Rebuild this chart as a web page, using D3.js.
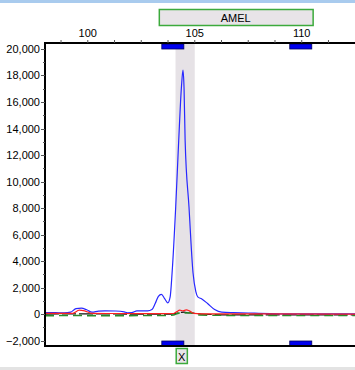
<!DOCTYPE html>
<html>
<head>
<meta charset="utf-8">
<script src="https://cdn.jsdelivr.net/npm/d3@7"></script>
<style>
  body { margin: 0; background: #fff; }
  svg { display: block; font-family: "Liberation Sans", Arial, sans-serif; }
</style>
</head>
<body>
<svg id="chart" width="355" height="370"></svg>
<script>
// tick labels
const xTicks = [100, 105, 110];
const yTicks = [-2000, 0, 2000, 4000, 6000, 8000, 10000, 12000, 14000, 16000, 18000, 20000];

// marker / bins (bp)
const markerName = "AMEL";
const markerRange = [103.32, 110.51];
const binRanges = [[103.46, 104.49], [109.44, 110.47]];
const alleleName = "X";
const alleleRange = [104.11, 104.63];
const alleleBand = [104.1, 105.0];

// traces (bp -> RFU)
const blueBp  = [98.0, 98.5, 98.9, 99.2, 99.45, 99.7, 99.95, 100.2, 100.5, 100.8, 101.3, 101.7, 101.85, 102.05, 102.3, 102.8, 103.0, 103.15, 103.3, 103.44, 103.6, 103.74, 103.85, 103.94, 104.11, 104.25, 104.38, 104.45, 104.5, 104.55, 104.73, 104.92, 105.05, 105.14, 105.33, 105.6, 105.93, 106.26, 106.8, 107.5, 108.0, 109.0, 112.5];
const blueVal = [120, 110, 100, 150, 420, 450, 330, 150, 230, 250, 240, 180, 100, 110, 250, 250, 350, 800, 1350, 1500, 1150, 850, 1300, 3100, 8100, 13100, 17200, 18400, 17000, 13100, 8100, 3100, 1700, 1300, 1150, 800, 350, 150, 110, 90, 60, 30, 20];

const redBp   = [98.0, 99.3, 99.6, 99.85, 100.2, 101.0, 103.5, 104.0, 104.15, 104.3, 104.45, 104.6, 104.75, 104.95, 105.3, 108.0, 112.5];
const redVal  = [60, 60, 300, 250, 60, 50, 40, 50, 180, 300, 250, 320, 250, 60, 30, 20, 0];

const greenBp  = [98.0, 99.5, 100.0, 103.5, 104.0, 104.2, 104.4, 104.6, 104.8, 105.2, 108.0, 112.5];
const greenVal = [-110, -100, -110, -100, -60, 60, 120, 90, 120, -60, -100, -90];

const blackBp  = [98.0, 100.0, 103.8, 104.1, 104.3, 104.5, 104.7, 104.9, 105.3, 107.0, 112.5];
const blackVal = [10, 20, 0, 60, 120, 160, 100, 80, 10, -60, -60];

const svg = d3.select("#chart");
const W = 355, H = 370;
const pLeft = 45, pRight = 355, pTop = 43, pBottom = 346;

const x = d3.scaleLinear().domain([98.0, 112.49]).range([pLeft, pRight]);
const y = d3.scaleLinear().domain([-2400, 20450]).range([pBottom, pTop]);

// window strips
svg.append("rect").attr("x", 0).attr("y", 0).attr("width", W).attr("height", 3).attr("fill", "#a9cbee");
svg.append("rect").attr("x", 0).attr("y", 367).attr("width", W).attr("height", 3).attr("fill", "#e3e3e3");

// plot background + allele band
svg.append("rect").attr("x", pLeft).attr("y", pTop).attr("width", pRight - pLeft).attr("height", pBottom - pTop).attr("fill", "#fff");
svg.append("rect")
  .attr("x", x(alleleBand[0])).attr("y", pTop)
  .attr("width", x(alleleBand[1]) - x(alleleBand[0])).attr("height", pBottom - pTop)
  .attr("fill", "#e6e2e6");

// marker box
svg.append("rect")
  .attr("x", x(markerRange[0]) + 0.5).attr("y", 9.5)
  .attr("width", x(markerRange[1]) - x(markerRange[0])).attr("height", 16)
  .attr("fill", "#e8e4e8").attr("stroke", "#3caa3c").attr("stroke-width", 1.5);
svg.append("text")
  .attr("x", (x(markerRange[0]) + x(markerRange[1])) / 2).attr("y", 18)
  .attr("text-anchor", "middle").attr("dominant-baseline", "central")
  .attr("font-size", 11).attr("fill", "#000").text(markerName);

// clip for traces
svg.append("clipPath").attr("id", "plotclip")
  .append("rect").attr("x", pLeft).attr("y", pTop).attr("width", pRight - pLeft).attr("height", pBottom - pTop);

const line = d3.line().x(d => x(d[0])).y(d => y(d[1])).curve(d3.curveMonotoneX);
const g = svg.append("g").attr("clip-path", "url(#plotclip)");

function trace(bp, vals, color, dash, width) {
  g.append("path")
    .datum(d3.zip(bp, vals))
    .attr("d", line)
    .attr("fill", "none")
    .attr("stroke", color)
    .attr("stroke-width", width || 1.2)
    .attr("stroke-dasharray", dash || null);
}
trace(blackBp, blackVal, "#111", "14,3");
trace(greenBp, greenVal, "#2a8a2a", "9,5", 1.6);
trace(blueBp, blueVal, "#2828ff");
trace(redBp, redVal, "#ff2020");

// bin bars top + bottom
binRanges.forEach(r => {
  [pTop + 1, pBottom - 5].forEach(yy => {
    svg.append("rect")
      .attr("x", x(r[0])).attr("y", yy)
      .attr("width", x(r[1]) - x(r[0])).attr("height", 5)
      .attr("fill", "#0000ee").attr("stroke", "#000060").attr("stroke-width", 0.8);
  });
});

// axes frame
svg.append("line").attr("x1", pLeft).attr("x2", pRight).attr("y1", pTop).attr("y2", pTop).attr("stroke", "#000").attr("stroke-width", 2);
svg.append("line").attr("x1", pLeft).attr("x2", pRight).attr("y1", pBottom).attr("y2", pBottom).attr("stroke", "#000").attr("stroke-width", 2);
svg.append("line").attr("x1", pLeft).attr("x2", pLeft).attr("y1", pTop - 1).attr("y2", pBottom + 1).attr("stroke", "#000").attr("stroke-width", 2);

// top x axis
const xMinor = d3.range(98.75, 112.5, 1.25);
svg.append("g").selectAll("line").data(xMinor).join("line")
  .attr("x1", d => x(d)).attr("x2", d => x(d))
  .attr("y1", pTop - 3).attr("y2", pTop)
  .attr("stroke", "#555").attr("stroke-width", 1);
svg.append("g").selectAll("text").data(xTicks).join("text")
  .attr("x", d => x(d)).attr("y", 33)
  .attr("text-anchor", "middle").attr("dominant-baseline", "central")
  .attr("font-size", 11).attr("fill", "#000").text(d => d);

// left y axis
const yMinor = d3.range(-2000, 20001, 1000);
svg.append("g").selectAll("line").data(yMinor).join("line")
  .attr("x1", d => pLeft - (d % 2000 === 0 ? 4 : 2)).attr("x2", pLeft)
  .attr("y1", d => Math.round(y(d)) + 0.5).attr("y2", d => Math.round(y(d)) + 0.5)
  .attr("stroke", "#555").attr("stroke-width", 1);
svg.append("g").selectAll("text").data(yTicks).join("text")
  .attr("x", pLeft - 5).attr("y", d => y(d))
  .attr("text-anchor", "end").attr("dominant-baseline", "central")
  .attr("font-size", 11).attr("fill", "#000").text(d => d3.format(",")(d));

// allele label box
svg.append("rect")
  .attr("x", x(alleleRange[0]) + 0.5).attr("y", 348.5)
  .attr("width", x(alleleRange[1]) - x(alleleRange[0])).attr("height", 15)
  .attr("fill", "#e8e4e8").attr("stroke", "#3caa3c").attr("stroke-width", 1.5);
svg.append("text")
  .attr("x", (x(alleleRange[0]) + x(alleleRange[1])) / 2 + 0.5).attr("y", 356.5)
  .attr("text-anchor", "middle").attr("dominant-baseline", "central")
  .attr("font-size", 11).attr("fill", "#000").text(alleleName);
</script>
</body>
</html>
